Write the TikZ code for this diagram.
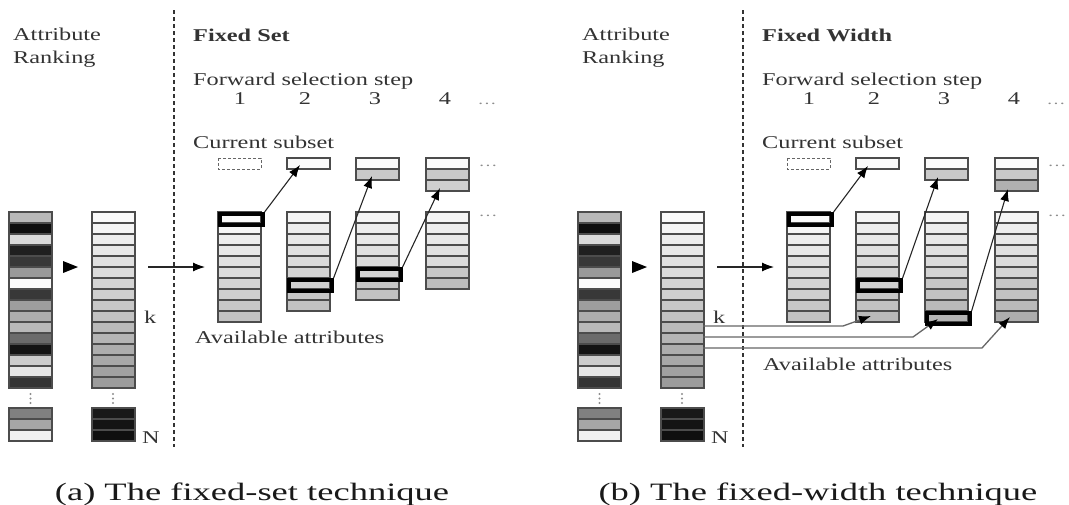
\documentclass[tikz,border=0pt]{standalone}
\usepackage{fontspec}
\setmainfont{Liberation Serif}[FakeStretch=1.35]
\newfontfamily\capfont{Liberation Serif}[FakeStretch=1.46]
\usetikzlibrary{arrows.meta}
\tikzset{
  cell/.style={draw=black!70, line width=1.1pt},
  hl/.style={draw=black, line width=3.6pt, inner sep=0pt, minimum width=43pt, minimum height=11pt, anchor=north west},
  lbl/.style={inner sep=0pt, anchor=base west, text=black!80, font=\fontsize{18}{20}\selectfont},
  num/.style={inner sep=0pt, anchor=base, text=black!80, font=\fontsize{18}{20}\selectfont},
  dots/.style={inner sep=0pt, anchor=base, text=black!45, font=\fontsize{14}{16}\selectfont},
  arr/.style={draw=black!85, line width=1.1pt, -{Latex[length=12pt,width=9pt,color=black]}},
  feed/.style={draw=black!60, line width=1.3pt, -{Latex[length=12pt,width=9pt,color=black]}},
  sep/.style={draw=black!80, line width=2pt, dash pattern=on 4pt off 3pt},
  emptybox/.style={draw=black!60, line width=1pt, dash pattern=on 3pt off 2pt},
  capt/.style={inner sep=0pt, anchor=base, text=black!90, font=\capfont\fontsize{25}{30}\selectfont},
}
\newcommand\mycol[3]{\foreach \g [count=\i from 0] in {#3} {\filldraw[cell, fill=white!\g!black] ({#1},{#2+11*\i}) rectangle ++(43,11);}}
\newcommand\vdotsat[1]{\foreach \yy in {394,398.5,403} {\fill[black!45] (#1,\yy) circle (1.1);}}
\newcommand\rankingpart[1]{%
  \node[lbl] (#1attr) at (13,40) {Attribute};
  \node[lbl] (#1rank) at (13,63) {Ranking};
  \mycol{9}{212}{72,5,85,12,22,60,98,22,62,68,72,42,8,80,90,20}
  \mycol{9}{408}{50,65,94}
  \mycol{92}{212}{98,96,93,91,88,86,83,81,78,76,73,71,68,66,63,61}
  \mycol{92}{408}{10,8,6}
  \vdotsat{30.5}
  \vdotsat{113}
  \fill[black] (63,261) -- (78,267) -- (63,273) -- cycle;
  \node[lbl] (#1k) at (144,323) {k};
  \node[lbl] (#1N) at (142,443) {N};
  \coordinate (#1sortR) at (148,267);
  \coordinate (#1firstL) at (205,267);
  \draw[arr] (#1sortR) -- (#1firstL);
  \coordinate (#1septop) at (174,10);
  \coordinate (#1sepbot) at (174,447);
  \draw[sep] (#1septop) -- (#1sepbot);
  \node[lbl] (#1fwd) at (193,85) {Forward selection step};
  \node[num] (#1n1) at (240,104) {1};
  \node[num] (#1n2) at (305,104) {2};
  \node[num] (#1n3) at (375,104) {3};
  \node[num] (#1n4) at (445,104) {4};
  \node[dots] (#1d1) at (487,104) {\dots};
  \node[dots] (#1d2) at (488,166) {\dots};
  \node[dots] (#1d3) at (488,216) {\dots};
  \node[lbl] (#1cur) at (193,148) {Current subset};
  \draw[emptybox] (218,158) rectangle (261,169);
}
\begin{document}
\begin{tikzpicture}[x=1pt,y=-1pt]
\useasboundingbox (0,0) rectangle (1069,504);
% ---------------- panel (a)
\begin{scope}
  \rankingpart{a}
  \node[lbl, font=\fontsize{18}{20}\selectfont\bfseries] (atitle) at (193,41) {Fixed Set};
  \mycol{287}{158}{98}
  \mycol{356}{158}{98,79}
  \mycol{426}{158}{98,79,81}
  \mycol{218}{212}{98,96,93,91,88,86,83,81,78,76}
  \mycol{287}{212}{96,93,91,88,86,83,81,78,76}
  \mycol{356}{212}{96,93,91,88,86,83,78,76}
  \mycol{426}{212}{96,93,91,88,86,78,74}
  \node[hl] (ah1) at (218,212) {};
  \node[hl] (ah2) at (287,278) {};
  \node[hl] (ah3) at (356,267) {};
  \coordinate (as2) at (300,165);
  \coordinate (as3) at (372,176);
  \coordinate (as4) at (440,188);
  \draw[arr] (ah1.north east) -- (as2);
  \draw[arr] (ah2.north east) -- (as3);
  \draw[arr] (ah3.north east) -- (as4);
  \node[lbl] (aavail) at (195,343) {Available attributes};
  \node[capt] (acap) at (252,500) {(a) The fixed-set technique};
\end{scope}
% ---------------- panel (b)
\begin{scope}[xshift=569pt]
  \rankingpart{b}
  \node[lbl, font=\fontsize{18}{20}\selectfont\bfseries] (btitle) at (193,41) {Fixed Width};
  \mycol{287}{158}{98}
  \mycol{356}{158}{98,79}
  \mycol{426}{158}{98,79,69}
  \mycol{218}{212}{98,96,93,91,88,86,83,81,78,76}
  \mycol{287}{212}{96,93,91,88,86,83,81,78,76,73}
  \mycol{356}{212}{96,93,91,88,86,83,78,76,73,71}
  \mycol{426}{212}{96,93,91,88,86,83,78,76,73,68}
  \node[hl] (bh1) at (218,212) {};
  \node[hl] (bh2) at (287,278) {};
  \node[hl] (bh3) at (356,311) {};
  \coordinate (bs2) at (299,166);
  \coordinate (bs3) at (369,177);
  \coordinate (bs4) at (439,189);
  \draw[arr] (bh1.north east) -- (bs2);
  \draw[arr] (bh2.north east) -- (bs3);
  \draw[arr] (bh3.north east) -- (bs4);
  \coordinate (bk1) at (134,326);
  \coordinate (bk2) at (134,337);
  \coordinate (bk3) at (134,348);
  \coordinate (bt1) at (302,316);
  \coordinate (bt2) at (369,319);
  \coordinate (bt3) at (441,317);
  \draw[feed] (bk1) -- (274,326) -- (bt1);
  \draw[feed] (bk2) -- (344,337) -- (bt2);
  \draw[feed] (bk3) -- (413,348) -- (bt3);
  \node[lbl] (bavail) at (194,370) {Available attributes};
  \node[capt] (bcap) at (249,500) {(b) The fixed-width technique};
\end{scope}
\end{tikzpicture}
\end{document}
